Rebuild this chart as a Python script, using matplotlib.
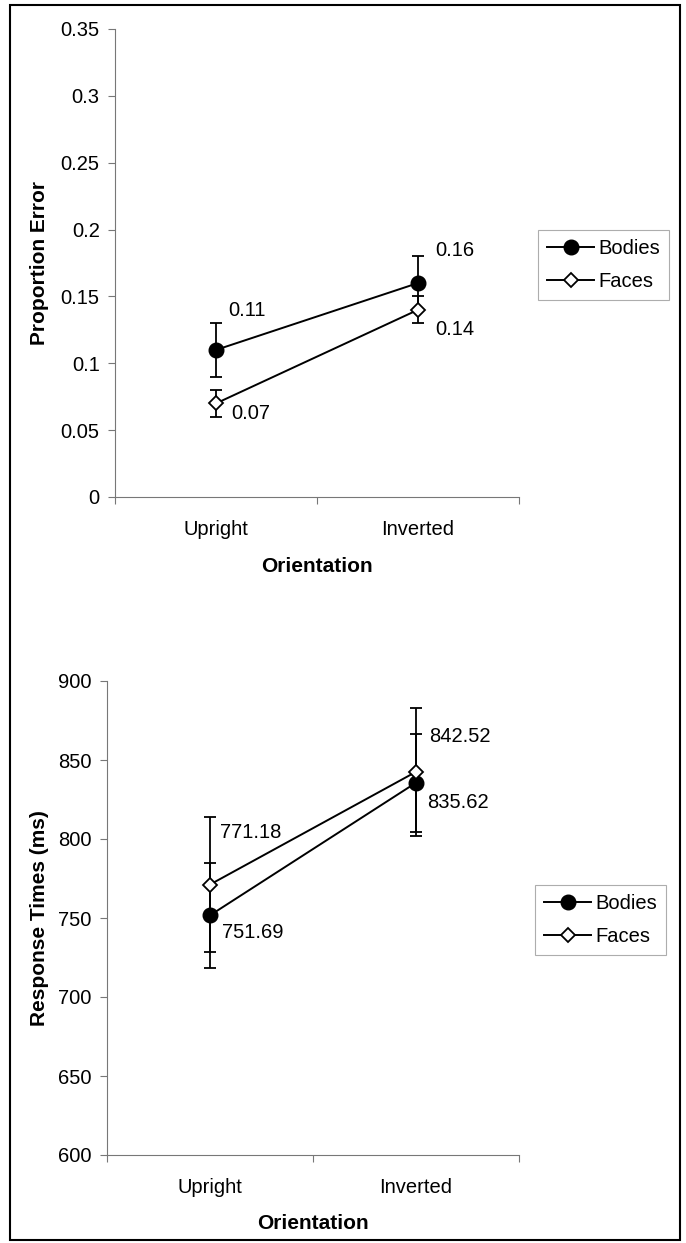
import matplotlib
matplotlib.use("Agg")
import matplotlib.pyplot as plt
from matplotlib.patches import Rectangle
from matplotlib.lines import Line2D

plt.rcParams["font.family"] = ["Liberation Sans", "DejaVu Sans"]
plt.rcParams["font.size"] = 14.5

categories = ["Upright", "Inverted"]
series = ["Bodies", "Faces"]

# proportion error
err_bodies = [0.11, 0.16]
err_faces = [0.07, 0.14]
err_bodies_se = [0.02, 0.02]
err_faces_se = [0.01, 0.01]
err_bodies_labels = ["0.11", "0.16"]
err_faces_labels = ["0.07", "0.14"]

# response times
rt_bodies = [751.69, 835.62]
rt_faces = [771.18, 842.52]
rt_bodies_se = [33.3, 31.0]
rt_faces_se = [43.0, 40.5]
rt_bodies_labels = ["751.69", "835.62"]
rt_faces_labels = ["771.18", "842.52"]

axis_gray = "#777777"
linecolor = "black"
fs = 14.5


def panel(ax, bodies, faces, bodies_se, faces_se, ylim, yticks, yfmt, ylabel,
          bodies_off, faces_off, bodies_lab, faces_lab, legend_anchor):
    x = [0.5, 1.5]
    ax.errorbar(x, bodies, yerr=bodies_se, color=linecolor, lw=1.4,
                marker="o", ms=10.5, mfc="black", mec="black",
                capsize=4.5, elinewidth=1.3, capthick=1.3, zorder=3)
    ax.errorbar(x, faces, yerr=faces_se, color=linecolor, lw=1.4,
                marker="D", ms=7.5, mfc="white", mec="black", mew=1.3,
                capsize=4.5, elinewidth=1.3, capthick=1.3, zorder=4)

    for xi, yi, lab, off in zip(x, bodies, bodies_lab, bodies_off):
        ax.annotate(lab, (xi, yi), xytext=off, textcoords="offset pixels",
                    ha="left", va="center", fontsize=fs)
    for xi, yi, lab, off in zip(x, faces, faces_lab, faces_off):
        ax.annotate(lab, (xi, yi), xytext=off, textcoords="offset pixels",
                    ha="left", va="center", fontsize=fs)

    ax.set_xlim(0, 2)
    ax.set_ylim(*ylim)
    ax.set_yticks(yticks)
    ax.set_yticklabels([yfmt(v) for v in yticks])

    ax.set_xticks([0, 1, 2])
    ax.set_xticklabels([])
    ax.set_xticks(x, minor=True)
    ax.set_xticklabels(categories, minor=True)
    ax.tick_params(axis="x", which="major", direction="out", length=5,
                   width=0.8, color=axis_gray)
    ax.tick_params(axis="x", which="minor", length=0, pad=16.5, labelsize=fs)
    ax.tick_params(axis="y", direction="out", length=5, width=0.8,
                   color=axis_gray, pad=6, labelsize=fs)

    for side in ["top", "right"]:
        ax.spines[side].set_visible(False)
    for side in ["left", "bottom"]:
        ax.spines[side].set_color(axis_gray)
        ax.spines[side].set_linewidth(0.8)

    ax.set_ylabel(ylabel, fontweight="bold", fontsize=15)
    ax.set_xlabel("Orientation", fontweight="bold", fontsize=15)

    handles = [
        Line2D([], [], color=linecolor, lw=1.4, marker="o", ms=10.5,
               mfc="black", mec="black"),
        Line2D([], [], color=linecolor, lw=1.4, marker="D", ms=7.5,
               mfc="white", mec="black", mew=1.3),
    ]
    leg = ax.legend(handles, series, loc="upper left", bbox_to_anchor=legend_anchor,
                    borderaxespad=0, frameon=True, fancybox=False,
                    handlelength=2.35, handletextpad=0.2, borderpad=0.45,
                    labelspacing=0.7, fontsize=fs)
    leg.get_frame().set_edgecolor("#999999")
    leg.get_frame().set_linewidth(0.8)
    return ax


fig = plt.figure(figsize=(6.86, 12.43), dpi=100)

ax1 = fig.add_axes([115 / 686, 1 - 497 / 1243, 404 / 686, 468 / 1243])
panel(ax1, err_bodies, err_faces, err_bodies_se, err_faces_se,
      (0, 0.35), [0, 0.05, 0.1, 0.15, 0.2, 0.25, 0.3, 0.35],
      lambda v: "0" if v == 0 else f"{v:g}", "Proportion Error",
      [(12, 39), (17, 33)], [(15, -10), (17, -20)],
      err_bodies_labels, err_faces_labels, (1.047, 0.5705))
ax1.xaxis.set_label_coords(0.5, -0.128)
ax1.yaxis.set_label_coords(-0.163, 0.5)

ax2 = fig.add_axes([107 / 686, 1 - 1155 / 1243, 412 / 686, 474 / 1243])
panel(ax2, rt_bodies, rt_faces, rt_bodies_se, rt_faces_se,
      (600, 900), [600, 650, 700, 750, 800, 850, 900],
      lambda v: f"{v:g}", "Response Times (ms)",
      [(12, -17), (11, -20)], [(10, 52), (13, 35)],
      rt_bodies_labels, rt_faces_labels, (1.039, 0.5696))
ax2.xaxis.set_label_coords(0.5, -0.124)
ax2.yaxis.set_label_coords(-0.140, 0.5)

fig.patches.append(Rectangle((10 / 686, 1 - 1240 / 1243), 670 / 686, 1235 / 1243,
                             transform=fig.transFigure, fill=False,
                             edgecolor="black", linewidth=1.5))

fig.savefig("out.png", dpi=100)
